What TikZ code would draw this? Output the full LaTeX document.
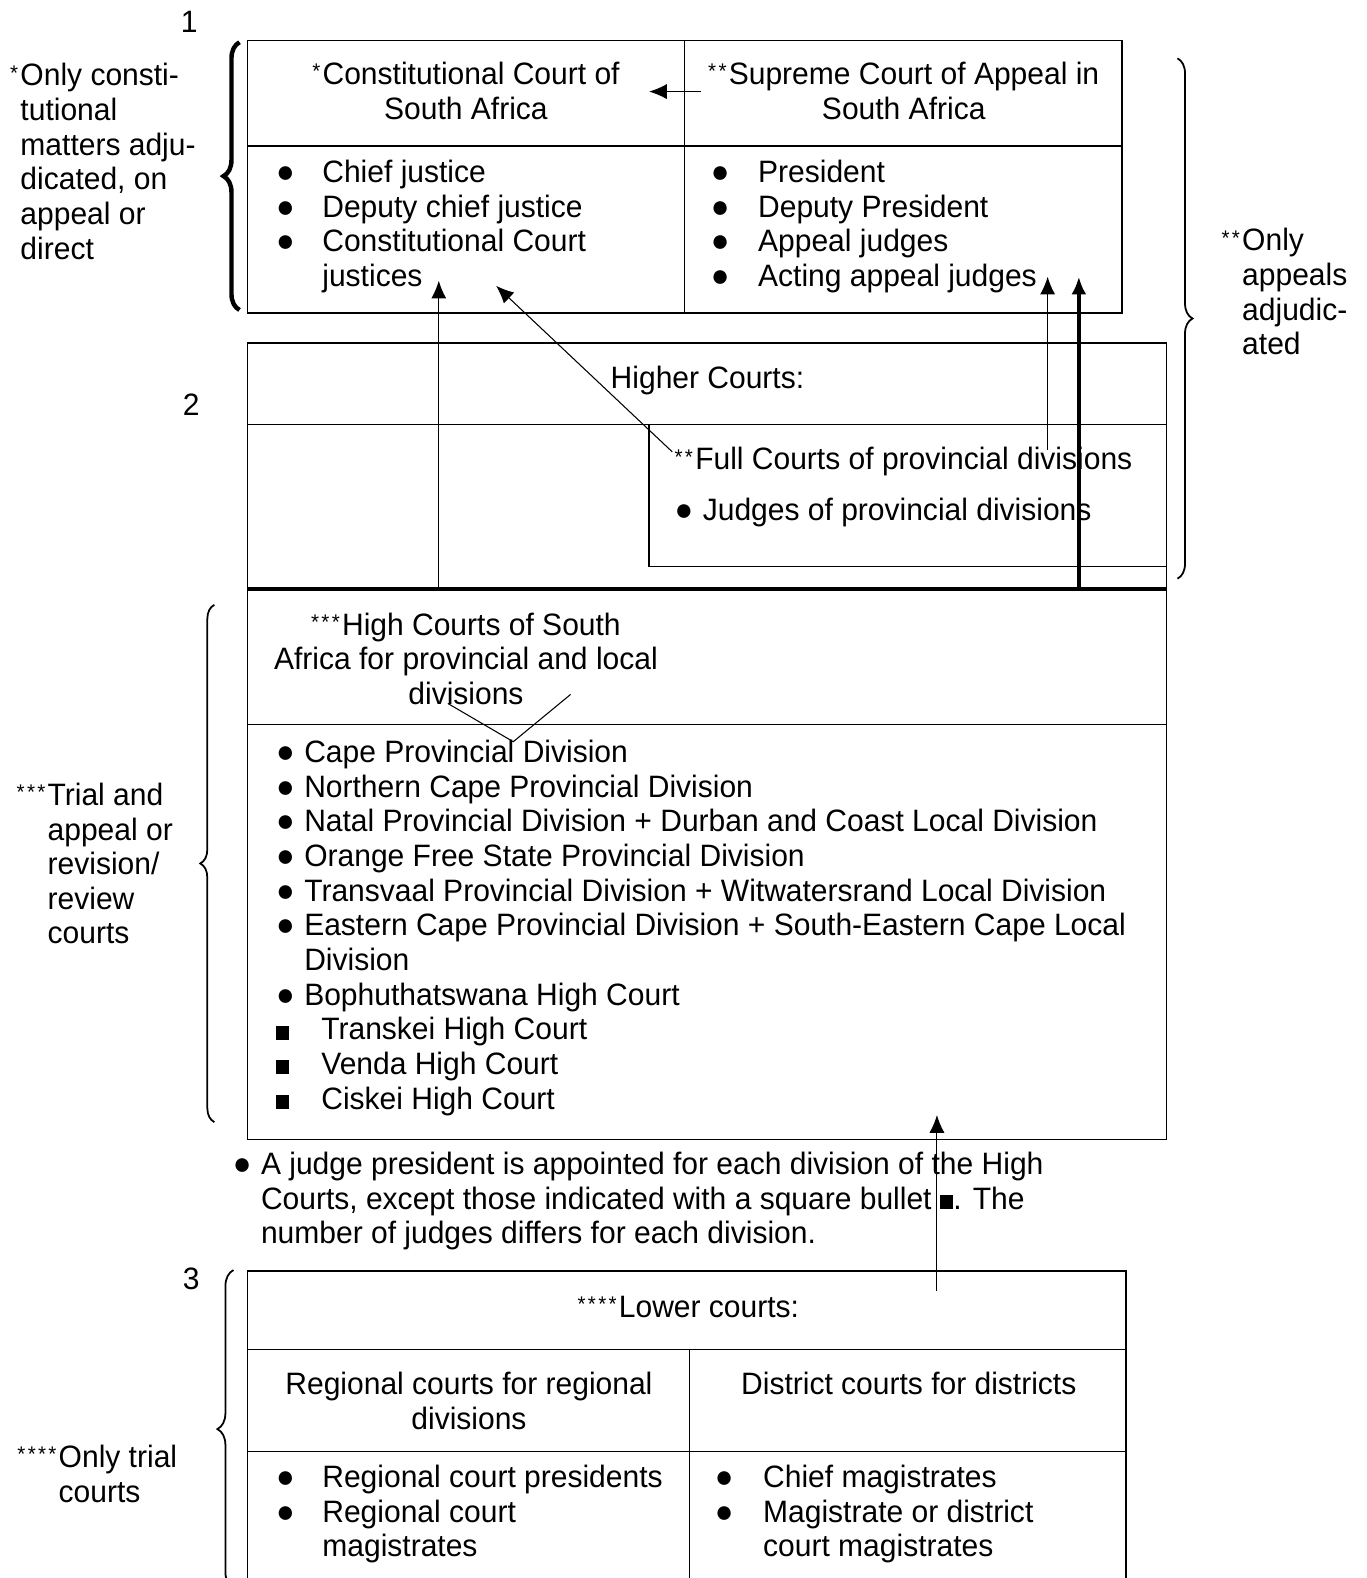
\documentclass[tikz,border=0pt]{standalone}
\usepackage{fontspec}
\setmainfont{Liberation Sans}[FakeStretch=0.97]
\usepackage{pgf, tikz}
\usetikzlibrary{arrows.meta,decorations.pathreplacing}

\newcommand{\bul}[1]{\makebox[#1][l]{{\fontsize{18}{18}\selectfont ●}}}
\newcommand{\sqb}[1]{\makebox[#1][l]{\rule{7.5pt}{8pt}}}
\newcommand{\sa}{\raisebox{.35ex}{\fontsize{12}{12}\selectfont*}\kern1.3pt}

\begin{document}
\begin{tikzpicture}[x=0.02cm,y=-0.02cm,
  every node/.style={inner sep=0pt,font=\fontsize{17.5}{19.6}\selectfont},
  frame/.style={line width=0.8pt},
  brc/.style={decorate,line width=1pt},
  thin/.style={line width=0.6pt},
  >={Latex[length=10pt,width=8.5pt]}]
\clip (0,0) rectangle (1358,1568);

\node(1) at(188,22){1};
\node(2) at(190,402){2};
\node(3) at(190,1271){3};

\draw[frame] (246,40) rectangle (1115,311);
\draw[frame] (680,40)--(680,311);
\draw[frame] (246,145)--(1115,145);
\draw[frame] (246,341) rectangle (1159,585);
\draw[frame] (246,422)--(1159,422);
\draw[frame] (645,422)--(645,563)--(1159,563);
\draw[frame] (246,585) rectangle (1159,1132);
\draw[frame] (246,720)--(1159,720);
\draw[frame] (246,1263) rectangle (1119,1600);
\draw[frame] (246,1341)--(1119,1341);
\draw[frame] (246,1442)--(1119,1442);
\draw[frame] (685,1341)--(685,1600);
\draw[line width=2.3pt] (246,585)--(1159,585);

\node(4)[anchor=base,align=center] at(463,118.5){\sa Constitutional Court of\\South Africa};
\node(5)[anchor=base,align=center] at(898,118.5){\sa\sa Supreme Court of Appeal in\\South Africa};
\node(6)[anchor=base west,align=left] at(274,284.5){\bul{9.2mm}Chief justice\\\bul{9.2mm}Deputy chief justice\\\bul{9.2mm}Constitutional Court\\\hspace{9.2mm}justices};
\node(7)[anchor=base west,align=left] at(706,284.5){\bul{9.4mm}President\\\bul{9.4mm}Deputy President\\\bul{9.4mm}Appeal judges\\\bul{9.4mm}Acting appeal judges};
\node(8)[anchor=base] at(703,386){Higher Courts:};
\node(9)[anchor=base west] at(670,467){\sa\sa Full Courts of provincial divisions};
\node(10)[anchor=base west] at(670,517){\bul{5.6mm}Judges of provincial divisions};
\node(11)[anchor=base,align=center] at(463,700){\sa\sa\sa High Courts of South\\Africa for provincial and local\\divisions};
\node(12)[anchor=base west,align=left] at(274,1102){\bul{5.6mm}Cape Provincial Division\\
\bul{5.6mm}Northern Cape Provincial Division\\
\bul{5.6mm}Natal Provincial Division + Durban and Coast Local Division\\
\bul{5.6mm}Orange Free State Provincial Division\\
\bul{5.6mm}Transvaal Provincial Division + Witwatersrand Local Division\\
\bul{5.6mm}Eastern Cape Provincial Division + South-Eastern Cape Local\\
\hspace{5.6mm}Division\\
\bul{5.6mm}Bophuthatswana High Court\\
\sqb{9mm}Transkei High Court\\
\sqb{9mm}Venda High Court\\
\sqb{9mm}Ciskei High Court};
\node(13)[anchor=base west,align=left] at(231,1236){\bul{5.6mm}A judge president is appointed for each division of the High\\
\hspace{5.6mm}Courts, except those indicated with a square bullet \rule{7.5pt}{8pt}. The\\
\hspace{5.6mm}number of judges differs for each division.};
\node(14)[anchor=base] at(684,1309){\sa\sa\sa\sa Lower courts:};
\node(15)[anchor=base,align=center] at(466,1420.5){Regional courts for regional\\divisions};
\node(16)[anchor=base] at(903,1386){District courts for districts};
\node(17)[anchor=base west,align=left] at(274,1547){\bul{9.2mm}Regional court presidents\\\bul{9.2mm}Regional court\\\hspace{9.2mm}magistrates};
\node(18)[anchor=base west,align=left] at(710,1547){\bul{9.6mm}Chief magistrates\\\bul{9.6mm}Magistrate or district\\\hspace{9.6mm}court magistrates};

\node(19)[anchor=base west,align=left] at(20,257.5){\llap{\sa}Only consti-\\tutional\\matters adju-\\dicated, on\\appeal or\\direct};
\node(20)[anchor=base west,align=left] at(1234,352.5){\llap{\sa\sa}Only\\appeals\\adjudic-\\ated};
\node(21)[anchor=base west,align=left] at(47,938){\llap{\sa\sa\sa}Trial and\\appeal or\\revision/\\review\\courts};
\node(22)[anchor=base west,align=left] at(58,1492.5){\llap{\sa\sa\sa\sa}Only trial\\courts};

\draw[brc,line width=2.5pt,decoration={brace,amplitude=0.32cm}] (238,308)--(238,42);
\draw[brc,decoration={brace,amplitude=0.3cm}] (1170,58)--(1170,575);
\draw[brc,decoration={brace,amplitude=0.28cm}] (213,1115)--(213,601);
\draw[brc,decoration={brace,amplitude=0.32cm}] (232,1578)--(232,1262);

\coordinate(a1) at(697,91);
\coordinate(a2) at(645,91);
\coordinate(b1) at(436,585);
\coordinate(b2) at(436,279);
\coordinate(c1) at(668,449);
\coordinate(c2) at(493,284);
\coordinate(d1) at(1041,447);
\coordinate(d2) at(1041,275);
\coordinate(e1) at(1072,585);
\coordinate(e2) at(1072,275);
\coordinate(f1) at(931,1283);
\coordinate(f2) at(931,1108);
\coordinate(v1) at(445,699);
\coordinate(v2) at(510,737);
\coordinate(v3) at(567,690);
\draw [thin,->](a1)--(a2);
\draw [thin,->](b1)--(b2);
\draw [thin,->](c1)--(c2);
\draw [thin,->](d1)--(d2);
\draw [line width=2.2pt,->](e1)--(e2);
\draw [thin,->](f1)--(f2);
\draw [thin](v1)--(v2)--(v3);
\end{tikzpicture}
\end{document}
